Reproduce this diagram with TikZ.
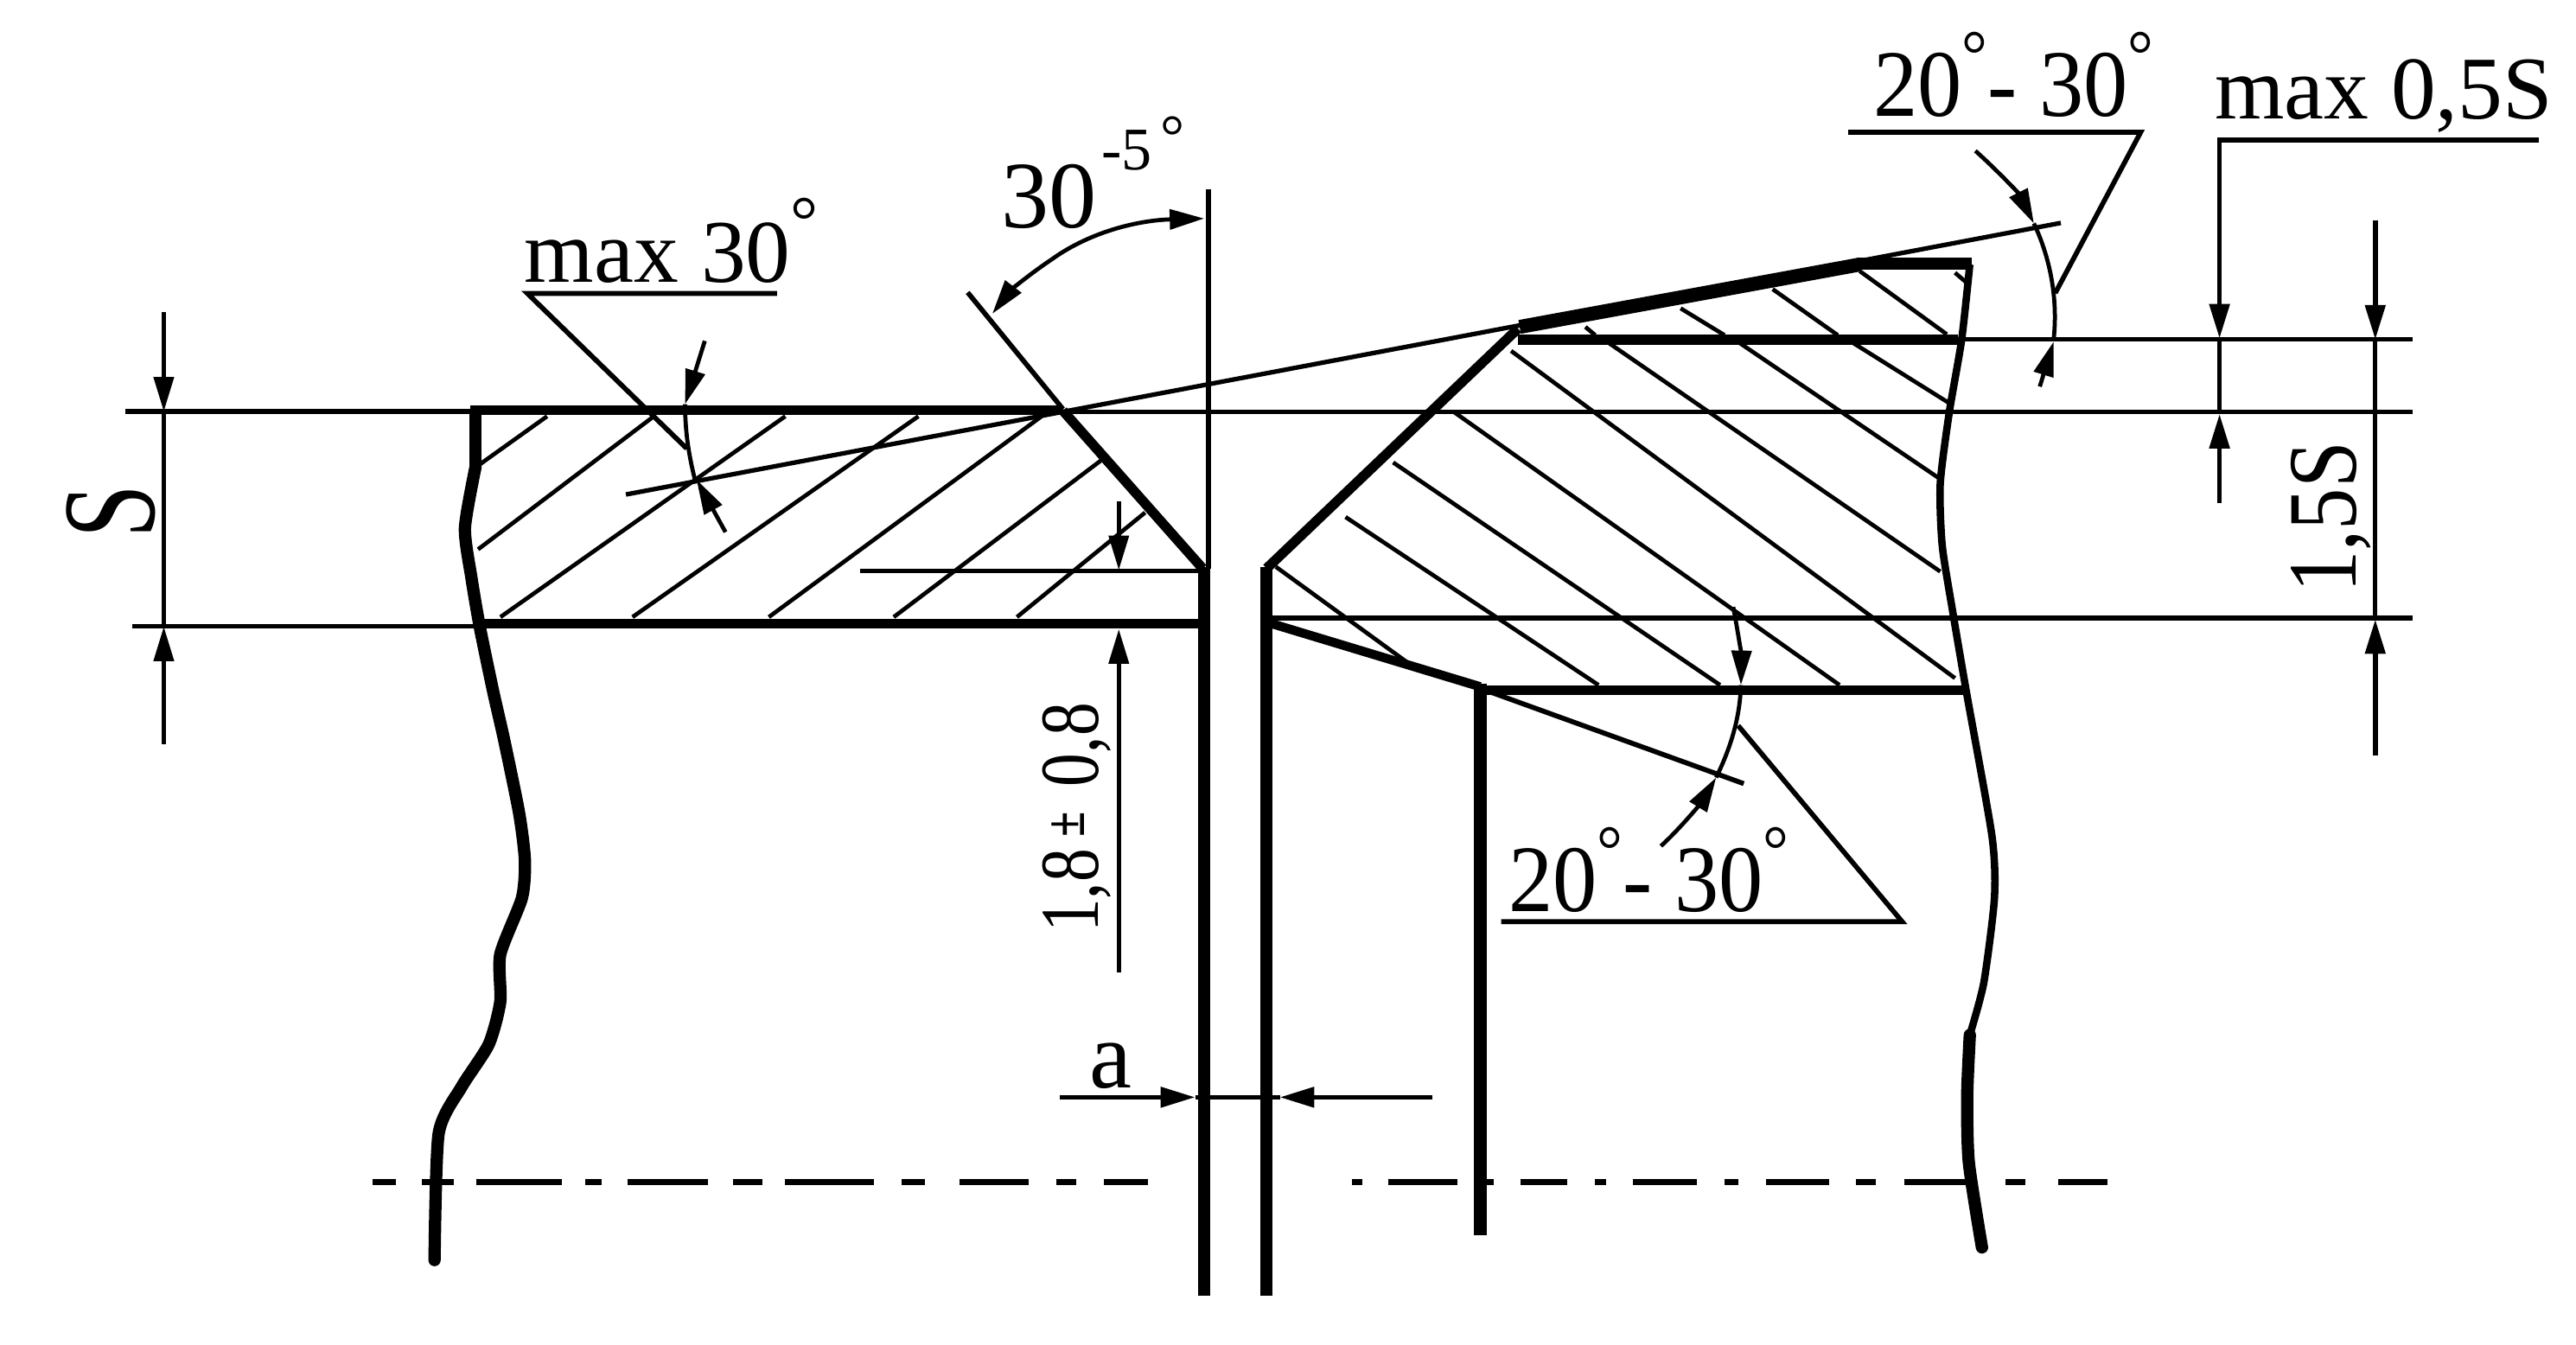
\documentclass[tikz,border=0pt]{standalone}
\usepackage{fontspec}
\setmainfont{Liberation Serif}
\usetikzlibrary{arrows.meta}
\def\dgr{\raisebox{13pt}{\fontsize{24}{24}\selectfont °}}
\def\bigsize{\fontsize{31}{31}\selectfont}
\tikzset{
	contour/.style={line width=1.2mm, line join=round},
	rim/.style={line width=1.5mm},
	edge/.style={line width=.9mm, line join=round},
	hatchline/.style={line width=.5mm},
	thinline/.style={line width=.55mm},
	leader/.style={line width=.6mm},
	axisline/.style={line width=.8mm},
	dimtip/.style={-{Triangle[length=4.2mm,width=2.4mm]}, line width=.5mm},
	dimtext/.style={anchor=base west, inner sep=0pt, font=\bigsize},
}

\begin{document}
\begin{tikzpicture}[x=0.02cm, y=-0.02cm]
			%%%%% START %%%%%
			\useasboundingbox (0, 0) rectangle (1568, 818.7);
			
			% left plate
			\draw[contour] (286, 249.6) -- (647, 249.6);
			\draw[contour] (291, 379.5) -- (733, 379.5);
			\draw[contour] (647, 250) -- (732, 346);
			\draw[rim, line cap=round] (289.5, 252) -- (289.5, 284);
			\draw[rim, line cap=round] plot[smooth, tension=.4] coordinates {(289.5, 284) (283, 321.5) (287, 352) (292, 381.4) (300, 420) (307, 451) (316, 495) (319.5, 523.6) (317.7, 546.6) (304.5, 581) (304.5, 609.8) (297.5, 635.7) (281, 661.5) (267, 690) (264.5, 767)};
			\draw[rim] (733, 345) -- (733, 788.6);
			
			\draw[hatchline] (292, 282.7) -- (333, 253.4);
			\draw[hatchline] (291, 334.4) -- (398, 253.4);
			\draw[hatchline] (304.6, 375.6) -- (478, 253.4);
			\draw[hatchline] (385, 375.6) -- (559, 253.4);
			\draw[hatchline] (468, 375.6) -- (634, 253.4);
			\draw[hatchline] (544, 375.6) -- (670, 280.4);
			\draw[hatchline] (619, 375.6) -- (697, 312);
			
			% right flange
			\draw[rim] (771, 345) -- (771, 788.6);
			\draw[contour] (771, 346) -- (924, 200);
			\draw[line width=1.7mm] (925, 199) -- (1132, 161);
			\draw[line width=1.4mm] (1130, 160.5) -- (1200, 160.5);
			\draw[contour] (924, 206.7) -- (1192, 206.7);
			\draw[contour] (901, 420) -- (1197, 420);
			\draw[line width=1.1mm] (774, 379.6) -- (901, 418);
			\draw[rim] (901, 416) -- (901, 752);
			\draw[edge] plot[smooth, tension=.4] coordinates {(1199, 161) (1194, 207) (1186.5, 251) (1181, 294.5) (1182.2, 332) (1188.6, 372.4) (1197, 421.6) (1212.5, 509) (1214, 546.6) (1207.5, 598.3) (1199, 630)};
			\draw[rim, line cap=round] plot[smooth, tension=.4] coordinates {(1199, 630) (1197.4, 667.3) (1198.4, 707.5) (1206.4, 759.3)};
			
			\draw[hatchline] (965, 199) -- (971, 204);
			\draw[hatchline] (1023, 187.7) -- (1049.7, 204);
			\draw[hatchline] (1079, 176) -- (1118.6, 204);
			\draw[hatchline] (1132, 165) -- (1185, 203.5);
			\draw[hatchline] (1190, 166) -- (1197, 172);
			\draw[hatchline] (1126.6, 207.9) -- (1186.5, 245.4);
			\draw[hatchline] (1057.6, 207.9) -- (1181, 291.6);
			\draw[hatchline] (978, 207.9) -- (1181, 347.9);
			\draw[hatchline] (919.8, 213.6) -- (1190, 412.8);
			\draw[hatchline] (885.3, 251) -- (1119.7, 417);
			\draw[hatchline] (848, 281.5) -- (1047, 417);
			\draw[hatchline] (819, 314.7) -- (973, 417);
			\draw[hatchline] (776.6, 345) -- (857.7, 404);
			
			% reference lines
			\draw[thinline] (76.5, 250.5) -- (286, 250.5);
			\draw[thinline] (80.6, 381.4) -- (291, 381.4);
			\draw[thinline] (647, 250.9) -- (1468.6, 250.9);
			\draw[thinline] (1192, 206.7) -- (1468.6, 206.7);
			\draw[thinline] (774, 376.2) -- (1468.6, 376.2);
			\draw[thinline] (523.6, 347.4) -- (730, 347.4);
			\draw[leader] (735.6, 115.3) -- (735.6, 346);
			\draw[leader] (589, 178) -- (647, 249);
			\draw[thinline] (381, 301) -- (1254.4, 135.7);
			\draw[leader] (901, 419) -- (1061.4, 477);
			
			% centre lines
			\draw[axisline, dash pattern=on 2.8mm off 3.2mm on 3.8mm off 2.8mm on 10.4mm off 2.8mm on 2mm off 3.2mm on 9.8mm off 3mm on 3.6mm off 2.8mm on 10.8mm off 3.4mm on 2.8mm off 4.2mm on 8.4mm off 3.4mm on 2.4mm off 3.4mm on 5.4mm off 20mm] (227, 719.6) -- (699, 719.6);
			\draw[axisline, dash pattern=on 1.2mm off 3.2mm on 8.4mm off 3mm on 1.4mm off 3.3mm on 5.7mm off 3.4mm on 1.3mm off 3.3mm on 7.8mm off 3.4mm on 1.6mm off 3.4mm on 7.7mm off 3.3mm on 2.4mm off 3.4mm on 7.7mm off 4.7mm on 2.4mm off 4mm on 6mm off 20mm] (823, 719.6) -- (1283, 719.6);
			
			% dimension S
			\draw[dimtip] (99.7, 190) -- (99.7, 250.5);
			\draw[dimtip] (99.7, 453) -- (99.7, 381.4);
			\draw[hatchline] (99.7, 250.5) -- (99.7, 381.4);
			\node[dimtext, rotate=90, xscale=.72, font=\fontsize{46}{46}\selectfont] (labelS) at (94, 328) {S};
			
			% dimension 1,8
			\draw[dimtip] (681, 305) -- (681, 347);
			\draw[dimtip] (681, 592) -- (681, 383);
			\node[dimtext, rotate=90, xscale=.8, font=\fontsize{29}{29}\selectfont] (labelRoot) at (668.7, 568) {1,8\kern5pt\raisebox{5pt}{\fontsize{20}{20}\selectfont\bfseries ±}\kern11pt 0,8};
			
			% dimension a
			\draw[dimtip, line width=.6mm] (645, 667.9) -- (727.5, 667.9);
			\draw[dimtip, line width=.6mm] (872, 667.9) -- (779, 667.9);
			\draw[hatchline] (727.5, 667.9) -- (779, 667.9);
			\node[dimtext, font=\fontsize{33}{33}\selectfont] (labelGap) at (663, 662) {a};
			
			% angle 30
			\draw[dimtip, line width=.5mm] (640, 158) .. controls (665, 140) and (695, 134) .. (733, 133);
			\draw[dimtip, line width=.5mm] (640, 158) .. controls (625, 168) and (614, 178) .. (604, 191);
			\node[dimtext, font=\fontsize{33}{33}\selectfont] (labelBevel) at (609, 138.5) {30};
			\node[dimtext, font=\fontsize{21}{21}\selectfont] (labelTol) at (670, 103.5) {-5\kern3pt\raisebox{4.5pt}{°}};
			
			% max 30
			\node[dimtext] (labelMax) at (319, 171.6) {max 30\dgr};
			\draw[leader] (473, 178.6) -- (321, 178.6) -- (418, 273);
			\draw[dimtip] (429, 207.5) -- (417, 246);
			\draw[hatchline] (417, 246) .. controls (417, 262) and (419, 276) .. (423, 292);
			\draw[dimtip] (441.6, 323.9) -- (424, 292);
			
			% upper 20-30
			\node[dimtext, xscale=.93, font=\fontsize{33}{33}\selectfont] (labelUpper) at (1140, 70.7) {20\dgr- 30\dgr};
			\draw[leader] (1125, 80.5) -- (1303, 80.5) -- (1251, 178.4);
			\draw[dimtip] (1202.4, 91.8) .. controls (1217, 105) and (1229, 118) .. (1238, 136);
			\draw[hatchline] (1238, 136) .. controls (1247, 155) and (1253, 180) .. (1250, 207);
			\draw[dimtip] (1241.6, 235.3) -- (1250, 208);
			
			% max 0,5S
			\node[dimtext] (labelShift) at (1347.7, 72.2) {max 0,5S};
			\draw[leader] (1545.5, 85.2) -- (1351, 85.2) -- (1351, 120);
			\draw[dimtip, line width=.6mm] (1351, 120) -- (1351, 206);
			\draw[hatchline] (1351, 206) -- (1351, 251);
			\draw[dimtip, line width=.6mm] (1351, 306) -- (1351, 252);
			
			% dimension 1,5S
			\draw[dimtip, line width=.6mm] (1445.8, 134) -- (1445.8, 206.7);
			\draw[hatchline] (1445.8, 206.7) -- (1445.8, 376.2);
			\draw[dimtip, line width=.6mm] (1445.8, 460) -- (1445.8, 377);
			\node[dimtext, rotate=90, xscale=.85, font=\fontsize{34}{34}\selectfont] (labelHub) at (1434, 361) {1,5S};
			
			% lower 20-30
			\node[dimtext, xscale=.93, font=\fontsize{33}{33}\selectfont] (labelLower) at (918, 554.6) {20\dgr- 30\dgr};
			\draw[leader] (913.7, 561) -- (1157.8, 561) -- (1058, 441.7);
			\draw[dimtip] (1055, 369.5) .. controls (1058, 385) and (1060, 400) .. (1059.7, 417);
			\draw[hatchline] (1059.7, 417) .. controls (1059, 438) and (1053, 456) .. (1044.6, 473.3);
			\draw[dimtip] (1011, 515) .. controls (1024, 503) and (1035, 489) .. (1044.6, 473.3);
			
			%%%%% END %%%%%
		\end{tikzpicture}
\end{document}
